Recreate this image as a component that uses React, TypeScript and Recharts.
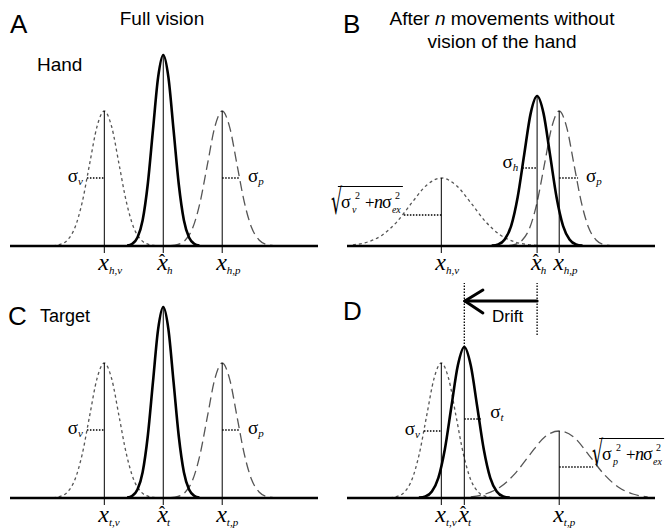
import React from 'react';
import { LineChart, Line, XAxis, YAxis, ReferenceLine } from 'recharts';

// Curve samples: x = position (arbitrary units), y = height
const visFullX = [12.5, 15, 17.5, 20, 22.5, 25, 27.5, 30, 32.5, 35, 37.5, 40, 42.5, 45, 47.5];
const visFullY = [0.002, 0.008, 0.03, 0.091, 0.219, 0.409, 0.596, 0.675, 0.596, 0.409, 0.219, 0.091, 0.03, 0.008, 0.002];
const estFullX = [37.75, 39.5, 41.25, 43, 44.75, 46.5, 48.25, 50, 51.75, 53.5, 55.25, 57, 58.75, 60.5, 62.25];
const estFullY = [0.002, 0.011, 0.042, 0.129, 0.31, 0.579, 0.843, 0.955, 0.843, 0.579, 0.31, 0.129, 0.042, 0.011, 0.002];
const propFullX = [52.5, 55, 57.5, 60, 62.5, 65, 67.5, 70, 72.5, 75, 77.5, 80, 82.5, 85, 87.5];
const propFullY = [0.002, 0.008, 0.03, 0.091, 0.219, 0.409, 0.596, 0.675, 0.596, 0.409, 0.219, 0.091, 0.03, 0.008, 0.002];

// after n movements: widened visual hand, drifted hand estimate
const visWideX = [0, 5, 10, 15, 20, 25, 30, 35, 40, 45, 50, 55, 60, 65];
const visWideY = [0.006, 0.02, 0.055, 0.122, 0.216, 0.304, 0.34, 0.304, 0.216, 0.122, 0.055, 0.02, 0.006, 0.001];
const handDriftX = [47.1, 49.3, 51.5, 53.7, 55.9, 58.1, 60.3, 62.5, 64.7, 66.9, 69.1, 71.3, 73.5, 75.7, 77.9];
const handDriftY = [0.002, 0.008, 0.033, 0.101, 0.244, 0.455, 0.662, 0.75, 0.662, 0.455, 0.244, 0.101, 0.033, 0.008, 0.002];

// target after drift: widened proprioceptive target, shifted estimate
const targetDriftX = [22.4, 24.6, 26.8, 29, 31.2, 33.4, 35.6, 37.8, 40, 42.2, 44.4, 46.6, 48.8, 51, 53.2];
const targetDriftY = [0.002, 0.008, 0.033, 0.101, 0.244, 0.455, 0.662, 0.755, 0.662, 0.455, 0.244, 0.101, 0.033, 0.008, 0.002];
const propWideX = [40, 45, 50, 55, 60, 65, 70, 75, 80, 85, 90, 95, 100];
const propWideY = [0.006, 0.02, 0.055, 0.122, 0.216, 0.304, 0.335, 0.304, 0.216, 0.122, 0.055, 0.02, 0.006];

// stems: position, peak height, subscript
const stemsA = [
  { x: 30, top: 0.675, sub: 'h,v' },
  { x: 50, top: 0.955, sub: 'h', hat: true },
  { x: 70, top: 0.675, sub: 'h,p' },
];
const stemsB = [
  { x: 30, top: 0.34, sub: 'h,v' },
  { x: 62.5, top: 0.75, sub: 'h', hat: true },
  { x: 70, top: 0.675, sub: 'h,p' },
];
const stemsC = [
  { x: 30, top: 0.675, sub: 't,v' },
  { x: 50, top: 0.955, sub: 't', hat: true },
  { x: 70, top: 0.675, sub: 't,p' },
];
const stemsD = [
  { x: 30, top: 0.675, sub: 't,v' },
  { x: 37.8, top: 0.755, sub: 't', hat: true },
  { x: 70, top: 0.335, sub: 't,p' },
];

// sigma markers: from, to, height, subscript
const sigmasA = [
  { x1: 24.1, x2: 30, y: 0.34, sub: 'v', side: 'left' },
  { x1: 70, x2: 76, y: 0.34, sub: 'p', side: 'right' },
];
const sigmasB = [
  { x1: 17.3, x2: 30, y: 0.155, sub: 'v', side: 'left', sqrt: true },
  { x1: 57.5, x2: 62.5, y: 0.39, sub: 'h', side: 'left', dy: 0 },
  { x1: 70, x2: 76.4, y: 0.34, sub: 'p', side: 'right' },
];
const sigmasD = [
  { x1: 24.1, x2: 30, y: 0.335, sub: 'v', side: 'left' },
  { x1: 37.8, x2: 43.9, y: 0.395, sub: 't', side: 'right', dy: -1 },
  { x1: 70, x2: 81.5, y: 0.155, sub: 'p', side: 'right', sqrt: true },
];

const SANS = '"Liberation Sans", Arial, sans-serif';
const SERIF = '"Liberation Serif", "Times New Roman", serif';

const zip = (xs: number[], ys: number[]) => xs.map((x, i) => ({ x, y: ys[i] }));

function StemLabel(props: any) {
  const { viewBox, sub, hat } = props;
  if (!viewBox) return null;
  const cx = viewBox.x;
  const by = viewBox.y + viewBox.height + 17;
  return (
    <text x={cx - 6} y={by} fontFamily={SERIF} fill="#000" fontSize={24} fontStyle="italic">
      x
      {hat ? (
        <tspan fontSize={18} fontStyle="normal" dx={-9} dy={-3}>ˆ</tspan>
      ) : null}
      <tspan fontSize={11} dx={hat ? 2 : 0} dy={hat ? 7 : 4}>{sub}</tspan>
    </text>
  );
}

function SigmaLabel(props: any) {
  const { viewBox, sub, side, dy = 4 } = props;
  if (!viewBox) return null;
  const left = side === 'left';
  const x = left ? viewBox.x - 4 : viewBox.x + viewBox.width + 8;
  return (
    <text x={x} y={viewBox.y + dy} fontFamily={SERIF} fontSize={19} fill="#000" textAnchor={left ? 'end' : 'start'}>
      σ<tspan fontSize={11} fontStyle="italic" dy={3}>{sub}</tspan>
    </text>
  );
}

function SqrtLabel(props: any) {
  const { viewBox, sub, side } = props;
  if (!viewBox) return null;
  const b = viewBox.y - 7.5;
  const x0 = side === 'left' ? viewBox.x - 72 : viewBox.x + viewBox.width;
  return (
    <g fill="#000">
      <text
        transform={`translate(${x0 - 1}, ${b + 6.5}) scale(0.5, 1)`}
        fontSize={35}
        fontFamily={'"DejaVu Serif", serif'}
      >
        √
      </text>
      <line x1={x0 + 6} x2={x0 + 71} y1={b - 21} y2={b - 21} stroke="#000" strokeWidth={1} />
      <text fontFamily={SERIF} fontSize={18}>
        <tspan x={x0 + 9} y={b}>σ</tspan>
        <tspan x={x0 + 20} y={b + 5} fontSize={10} fontStyle="italic">{sub}</tspan>
        <tspan x={x0 + 23} y={b - 9} fontSize={10}>2</tspan>
        <tspan x={x0 + 33} y={b} fontSize={17}>+</tspan>
        <tspan x={x0 + 42} y={b} fontStyle="italic">n</tspan>
        <tspan x={x0 + 50} y={b}>σ</tspan>
        <tspan x={x0 + 60} y={b + 5} fontSize={10} fontStyle="italic">ex</tspan>
        <tspan x={x0 + 63} y={b - 9} fontSize={10}>2</tspan>
      </text>
    </g>
  );
}

const curveStyle: Record<string, any> = {
  vis: { stroke: '#555', strokeWidth: 1.3, strokeDasharray: '3 3' },
  prop: { stroke: '#555', strokeWidth: 1.3, strokeDasharray: '10 5' },
  est: { stroke: '#000', strokeWidth: 2.6 },
};

const dotted = { stroke: '#000', strokeWidth: 1.3, strokeDasharray: '1.5 1.5' };

function Panel({ left, top, width, height, mLeft, mTop, mBottom, curves, stems, sigmas, children }: any) {
  return (
    <div style={{ position: 'absolute', left, top }}>
      <LineChart width={width} height={height} margin={{ top: mTop, right: width - mLeft - 308, bottom: mBottom, left: mLeft }}>
        <XAxis type="number" dataKey="x" domain={[-2, 102.5]} hide allowDataOverflow />
        <YAxis type="number" domain={[-0.1, 1.1]} hide allowDataOverflow />
        {curves.map((c: any, i: number) => (
          <Line
            key={i}
            data={zip(c.xs, c.ys)}
            dataKey="y"
            type="monotone"
            dot={false}
            activeDot={false}
            isAnimationActive={false}
            {...curveStyle[c.kind]}
          />
        ))}
        <ReferenceLine y={0} stroke="#000" strokeWidth={2.5} />
        {stems.map((s: any, i: number) => (
          <ReferenceLine
            key={'s' + i}
            segment={[{ x: s.x, y: -0.035 }, { x: s.x, y: s.top }]}
            stroke="#000"
            strokeWidth={1}
            label={<StemLabel sub={s.sub} hat={s.hat} />}
          />
        ))}
        {sigmas.map((s: any, i: number) => (
          <ReferenceLine
            key={'g' + i}
            segment={[{ x: s.x1, y: s.y }, { x: s.x2, y: s.y }]}
            {...dotted}
            label={s.sqrt ? <SqrtLabel sub={s.sub} side={s.side} /> : <SigmaLabel sub={s.sub} side={s.side} dy={s.dy} />}
          />
        ))}
        {children}
      </LineChart>
    </div>
  );
}

export default function App() {
  const full = [
    { xs: visFullX, ys: visFullY, kind: 'vis' },
    { xs: propFullX, ys: propFullY, kind: 'prop' },
    { xs: estFullX, ys: estFullY, kind: 'est' },
  ];
  const handAfter = [
    { xs: visWideX, ys: visWideY, kind: 'vis' },
    { xs: propFullX, ys: propFullY, kind: 'prop' },
    { xs: handDriftX, ys: handDriftY, kind: 'est' },
  ];
  const targetAfter = [
    { xs: visFullX, ys: visFullY, kind: 'vis' },
    { xs: propWideX, ys: propWideY, kind: 'prop' },
    { xs: targetDriftX, ys: targetDriftY, kind: 'est' },
  ];
  const arrow = { stroke: '#000', strokeWidth: 3, strokeLinecap: 'round' as const };
  return (
    <div style={{ position: 'absolute', left: 0, top: 0, width: 665, height: 529, background: '#fff', overflow: 'hidden' }}>
      <Panel left={0} top={0} width={330} height={282} mLeft={10} mTop={26} mBottom={16} curves={full} stems={stemsA} sigmas={sigmasA} />
      <Panel left={327} top={0} width={338} height={282} mLeft={20} mTop={26} mBottom={16} curves={handAfter} stems={stemsB} sigmas={sigmasB} />
      <Panel left={0} top={262} width={330} height={267} mLeft={10} mTop={16} mBottom={11} curves={full} stems={stemsC} sigmas={sigmasA} />
      <Panel left={327} top={262} width={338} height={267} mLeft={20} mTop={16} mBottom={11} curves={targetAfter} stems={stemsD} sigmas={sigmasD}>
        <ReferenceLine segment={[{ x: 37.8, y: 0.755 }, { x: 37.8, y: 1.075 }]} {...dotted} />
        <ReferenceLine segment={[{ x: 62.5, y: 0.815 }, { x: 62.5, y: 1.075 }]} {...dotted} />
        <ReferenceLine segment={[{ x: 62.5, y: 0.985 }, { x: 38, y: 0.985 }]} {...arrow} />
        <ReferenceLine segment={[{ x: 38, y: 0.985 }, { x: 44.1, y: 1.04 }]} {...arrow} />
        <ReferenceLine segment={[{ x: 38, y: 0.985 }, { x: 44.1, y: 0.925 }]} {...arrow} />
      </Panel>
      <svg width={665} height={529} style={{ position: 'absolute', left: 0, top: 0, pointerEvents: 'none' }}>
        <g fontFamily={SANS} fill="#000">
          <text x={10} y={33} fontSize={26}>A</text>
          <text x={343} y={33} fontSize={26}>B</text>
          <text x={8} y={325} fontSize={26}>C</text>
          <text x={343} y={320} fontSize={26}>D</text>
          <text x={162} y={25} fontSize={19} textAnchor="middle">Full vision</text>
          <text x={502} y={25} fontSize={19} textAnchor="middle">
            After <tspan fontStyle="italic">n</tspan> movements without
          </text>
          <text x={502} y={48} fontSize={19} textAnchor="middle">vision of the hand</text>
          <text x={37} y={71} fontSize={19}>Hand</text>
          <text x={40} y={322} fontSize={18}>Target</text>
          <text x={492} y={322} fontSize={17}>Drift</text>
        </g>
      </svg>
    </div>
  );
}
